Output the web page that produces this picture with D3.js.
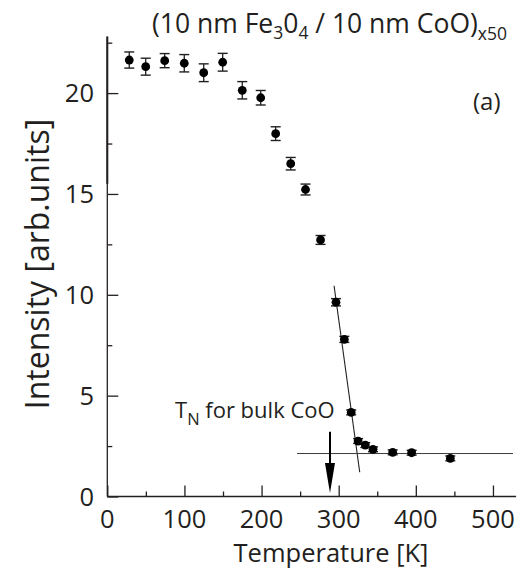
<!DOCTYPE html>
<html><head><meta charset="utf-8">
<script src="https://cdn.jsdelivr.net/npm/d3@7"></script>
<style>body{margin:0;background:#fff}svg{display:block}text{font-family:"Open Sans",sans-serif;fill:#231f20}</style>
</head><body><svg id="c" width="521" height="574"></svg>
<script>
const temperature = [28.5, 49.8, 74.4, 99.8, 125.0, 149.6, 175.0, 198.9, 218.3, 237.8, 257.0, 276.5, 296.5, 307.3, 316.2, 325.2, 334.5, 344.5, 370.0, 394.6, 444.7];
const intensity   = [21.64, 21.31, 21.61, 21.48, 21.01, 21.53, 20.14, 19.77, 17.99, 16.50, 15.22, 12.72, 9.63, 7.79, 4.17, 2.75, 2.55, 2.34, 2.19, 2.17, 1.89];
const errors      = [0.40, 0.42, 0.35, 0.43, 0.44, 0.44, 0.43, 0.36, 0.34, 0.31, 0.27, 0.22, 0.18, 0.15, 0.12, 0.12, 0.12, 0.12, 0.12, 0.12, 0.12];
const xTicks = [0, 100, 200, 300, 400, 500];
const xMinor = [50, 150, 250, 350, 450];
const yTicks = [0, 5, 10, 15, 20];
const yMinor = [2.5, 7.5, 12.5, 17.5, 22.5];
const steepFit = [[294, 10.45], [327.3, 1.2]];
const flatFit = [[246, 2.13], [526, 2.13]];
const tnArrow = {t: 288.7, from: 3.21, to: 0.17};

const svg = d3.select("#c");
const x = d3.scaleLinear().domain([0, 530]).range([107.3, 107.3 + 530 * 0.7713]);
const y = d3.scaleLinear().domain([0, 22.8]).range([496.5, 496.5 - 22.8 * 20.17]);
const ink = "#231f20";

// axes
const gx = svg.append("g").attr("transform", `translate(0,${y(0)})`);
gx.call(d3.axisTop(x).tickValues(xTicks).tickSize(11).tickFormat(""));
gx.append("g").call(d3.axisTop(x).tickValues(xMinor).tickSize(5).tickFormat(""));
gx.selectAll(".domain").filter((d,i)=>i>0).remove();
gx.select(".domain").attr("d", `M${x(0)},0H${x(530)}`);
const gy = svg.append("g").attr("transform", `translate(${x(0)},0)`);
gy.call(d3.axisRight(y).tickValues(yTicks).tickSize(11).tickFormat(""));
gy.append("g").call(d3.axisRight(y).tickValues(yMinor).tickSize(5).tickFormat(""));
gy.selectAll(".domain").filter((d,i)=>i>0).remove();
gy.select(".domain").attr("d", `M0,${y(22.8)}V${y(0)}`);
svg.selectAll(".domain, .tick line").attr("stroke", ink).attr("stroke-width", 1.3);
// thicker upper part of axis as in reference
svg.append("line").attr("x1", x(0)).attr("x2", x(0)).attr("y1", y(22.8)).attr("y2", y(15.5))
  .attr("stroke", ink).attr("stroke-width", 2);

// tick labels
svg.selectAll(".xl").data(xTicks).join("text").attr("class","xl")
  .attr("x", d => x(d)).attr("y", 528).attr("text-anchor","middle")
  .attr("font-size", 25.5).text(d => d);
svg.selectAll(".yl").data(yTicks).join("text").attr("class","yl")
  .attr("x", 94).attr("y", d => y(d) + 9).attr("text-anchor","end")
  .attr("font-size", 25.5).text(d => d);

// axis titles
svg.append("text").attr("x", 331).attr("y", 562).attr("text-anchor","middle")
  .attr("font-size", 25.5).text("Temperature [K]");
svg.append("text").attr("transform","translate(49,264) rotate(-90)").attr("text-anchor","middle")
  .attr("font-size", 32).text("Intensity [arb.units]");

// title
const t = svg.append("text").attr("x", 152).attr("y", 33).attr("font-size", 26.5);
t.append("tspan").text("(10 nm Fe");
t.append("tspan").attr("font-size", 17.5).attr("dy", 6).text("3");
t.append("tspan").attr("dy", -6).text("0");
t.append("tspan").attr("font-size", 17.5).attr("dy", 6).text("4");
t.append("tspan").attr("dy", -6).text(" / 10 nm CoO)");
t.append("tspan").attr("font-size", 17.5).attr("dy", 7).text("x50");

svg.append("text").attr("x", 473).attr("y", 110).attr("font-size", 24).text("(a)");

// fit lines
const line = d3.line().x(d => x(d[0])).y(d => y(d[1]));
svg.append("path").attr("d", line(steepFit)).attr("stroke", ink).attr("stroke-width", 1.1).attr("fill","none");
svg.append("path").attr("d", line(flatFit)).attr("stroke", "#3a3a3a").attr("stroke-width", 1).attr("fill","none");

// data with error bars
const pts = temperature.map((t,i) => ({t, v: intensity[i], e: errors[i]}));
const g = svg.append("g");
const eb = g.selectAll("g").data(pts).join("g");
eb.append("line").attr("x1", d=>x(d.t)).attr("x2", d=>x(d.t)).attr("y1", d=>y(d.v+d.e)).attr("y2", d=>y(d.v-d.e))
  .attr("stroke", ink).attr("stroke-width", 1.3);
eb.append("line").attr("x1", d=>x(d.t)-5).attr("x2", d=>x(d.t)+5).attr("y1", d=>y(d.v+d.e)).attr("y2", d=>y(d.v+d.e))
  .attr("stroke", ink).attr("stroke-width", 1.4);
eb.append("line").attr("x1", d=>x(d.t)-5).attr("x2", d=>x(d.t)+5).attr("y1", d=>y(d.v-d.e)).attr("y2", d=>y(d.v-d.e))
  .attr("stroke", ink).attr("stroke-width", 1.4);
eb.append("circle").attr("cx", d=>x(d.t)).attr("cy", d=>y(d.v)).attr("r", 4.4).attr("fill", "#000");

// T_N annotation
const tn = svg.append("text").attr("x", 175).attr("y", 418).attr("font-size", 22);
tn.append("tspan").text("T");
tn.append("tspan").attr("font-size", 16.5).attr("dy", 7).text("N");
tn.append("tspan").attr("dy", -7).text(" for bulk CoO");
const ax = x(tnArrow.t);
svg.append("line").attr("x1", ax).attr("x2", ax).attr("y1", y(tnArrow.from)).attr("y2", y(1.6))
  .attr("stroke", "#000").attr("stroke-width", 2);
svg.append("path").attr("d", `M${ax-5},${y(1.66)}L${ax+5},${y(1.66)}L${ax},${y(tnArrow.to)}Z`).attr("fill", "#000");
</script></body></html>
